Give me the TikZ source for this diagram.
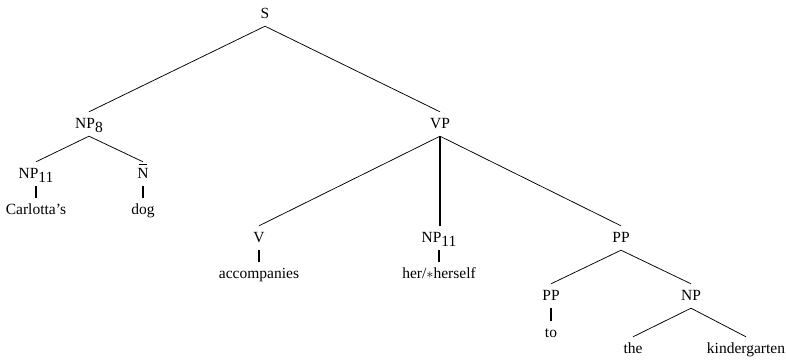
\documentclass[tikz,border=0pt]{standalone}
\usepackage{fontspec}
\setmainfont{Liberation Serif}
\newcommand\subnum[1]{\raisebox{-4.5pt}{#1}}
\newcommand\nbarlabel{\ooalign{N\cr\hidewidth\rule[13.3pt]{7.5pt}{0.7pt}\hidewidth\cr}}
\begin{document}
\begin{tikzpicture}[x=1pt,y=-1pt,
  lab/.style={inner sep=0pt, text height=16pt, text depth=8pt, anchor=base, font=\fontsize{15.5}{18}\selectfont},
  edge/.style={line width=0.75pt},
  unary/.style={line width=1.7pt}]
\useasboundingbox (0,0) rectangle (786,362);
\node[lab] (S) at (265,18) {S};
\node[lab] (NP8) at (89,128) {NP\subnum{8}};
\node[lab] (VP) at (440,128) {VP};
\node[lab] (NP11a) at (36,178) {NP\subnum{11}};
\node[lab] (Nbar) at (143,178) {\nbarlabel};
\node[lab] (carl) at (36,214) {Carlotta’s};
\node[lab] (dog) at (143,214) {dog};
\node[lab] (V) at (259,242) {V};
\node[lab] (NP11b) at (439,242) {NP\subnum{11}};
\node[lab] (PP) at (621,242) {PP};
\node[lab] (acc) at (259,278) {accompanies};
\node[lab] (her) at (439,278) {her/$\ast$herself};
\node[lab] (PP2) at (551,300) {PP};
\node[lab] (NP2) at (691,300) {NP};
\node[lab] (to) at (551,337) {to};
\node[lab] (the) at (633,353) {the};
\node[lab] (kind) at (746,353) {kindergarten};
\draw[edge] (S.south) -- (NP8.north);
\draw[edge] (S.south) -- (VP.north);
\draw[edge] (NP8.south) -- (NP11a.north);
\draw[edge] (NP8.south) -- (Nbar.north);
\draw[unary] (NP11a.south) -- (carl.north);
\draw[unary] (Nbar.south) -- (dog.north);
\draw[edge] (VP.south) -- (V.north);
\draw[unary] (VP.south) -- (NP11b.north -| VP.south);
\draw[edge] (VP.south) -- (PP.north);
\draw[unary] (V.south) -- (acc.north);
\draw[unary] (NP11b.south) -- (her.north);
\draw[edge] (PP.south) -- (PP2.north);
\draw[edge] (PP.south) -- (NP2.north);
\draw[unary] (PP2.south) -- (to.north);
\draw[edge] (NP2.south) -- (the.north);
\draw[edge] (NP2.south) -- (kind.north);
\end{tikzpicture}
\end{document}
